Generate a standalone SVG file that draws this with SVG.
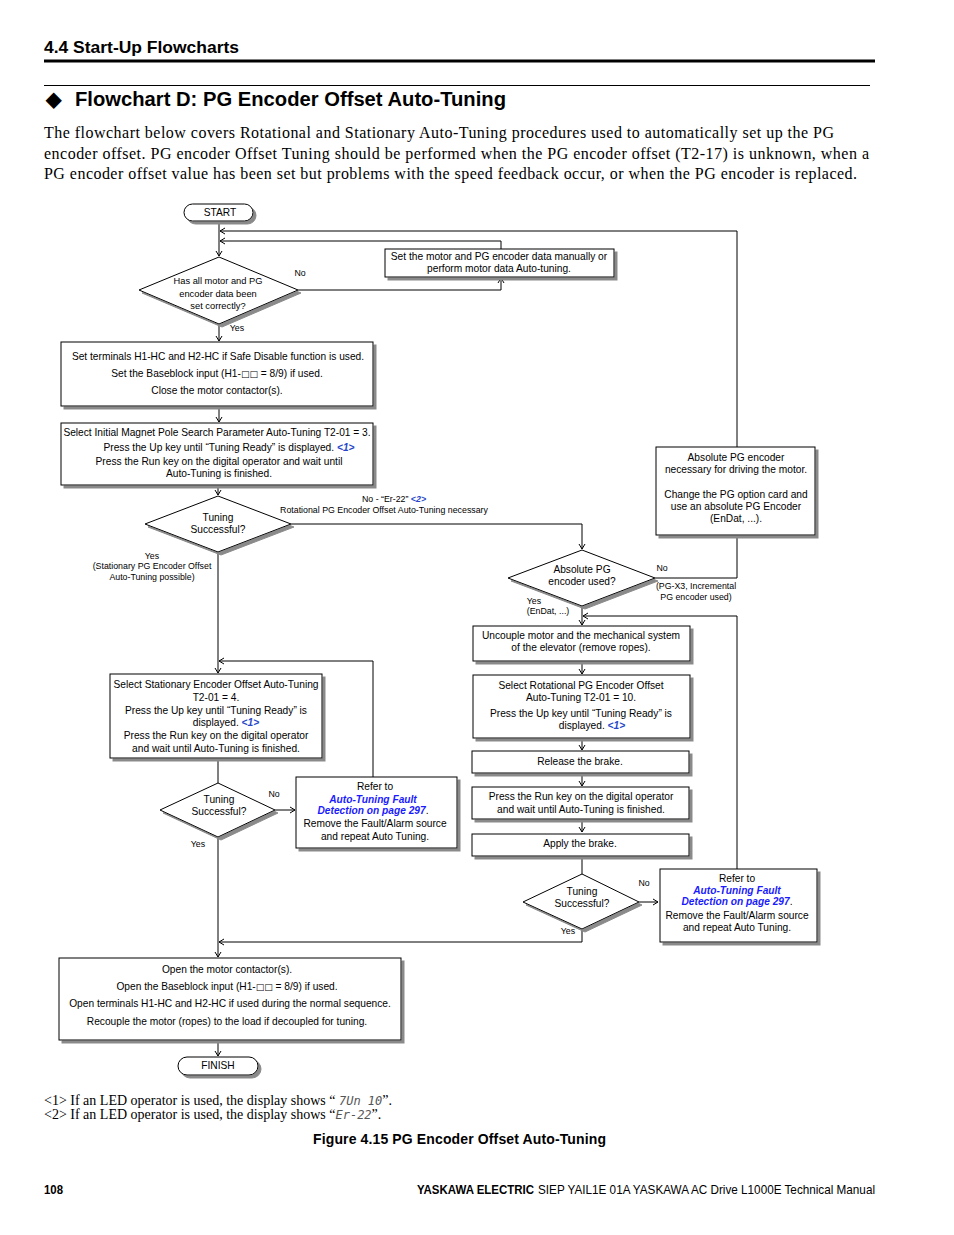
<svg xmlns="http://www.w3.org/2000/svg" width="954" height="1235" viewBox="0 0 954 1235">
<defs>
<filter id="sh" x="-10%" y="-10%" width="130%" height="140%">
<feOffset in="SourceAlpha" dx="3" dy="3" result="o"/>
<feFlood flood-color="#8a8a8a"/>
<feComposite in2="o" operator="in" result="s"/>
<feMerge><feMergeNode in="s"/><feMergeNode in="SourceGraphic"/></feMerge>
</filter>
<marker id="ar" markerWidth="8" markerHeight="8" refX="6" refY="4" orient="auto" markerUnits="userSpaceOnUse">
<path d="M1,1 L6,4 L1,7" fill="none" stroke="#000" stroke-width="1"/>
</marker>
</defs>
<style>
.b{fill:#fff;stroke:#000;stroke-width:1;filter:url(#sh)}
.t{font-family:"Liberation Sans",Arial,sans-serif;font-size:10.2px;fill:#000;text-anchor:middle}
.s{font-family:"Liberation Sans",Arial,sans-serif;font-size:8.8px;fill:#000;text-anchor:middle}
.d{font-family:"Liberation Sans",Arial,sans-serif;font-size:9.3px;fill:#000;text-anchor:middle}
.ln{font-weight:bold;font-style:italic;fill:#1a1aff}
.rf{font-weight:bold;font-style:italic;fill:#2747c9}
.sq{font-family:"DejaVu Sans",sans-serif;font-size:9px}
.c{fill:none;stroke:#000;stroke-width:1}
.ca{fill:none;stroke:#000;stroke-width:1;marker-end:url(#ar)}
.hd{font-family:"Liberation Sans",Arial,sans-serif;font-weight:bold;fill:#000}
.p{font-family:"Liberation Serif","Times New Roman",serif;font-size:16px;fill:#000}
.fn{font-family:"Liberation Serif","Times New Roman",serif;font-size:14px;fill:#000}
.led{font-family:"DejaVu Sans Mono",monospace;font-style:italic;font-size:12px;fill:#555}
</style>

<g id="page">
<text class="hd" x="44" y="53" font-size="17" textLength="195" lengthAdjust="spacingAndGlyphs">4.4  Start-Up Flowcharts</text>
<rect x="44" y="59.5" width="831" height="3" fill="#000"/>
<rect x="44" y="85" width="826" height="1" fill="#000"/>
<text class="hd" x="46" y="106" font-size="20">◆</text>
<text class="hd" x="75" y="106" font-size="20" textLength="431" lengthAdjust="spacingAndGlyphs">Flowchart D: PG Encoder Offset Auto-Tuning</text>
<text class="p" x="44" y="138" textLength="790" lengthAdjust="spacing">The flowchart below covers Rotational and Stationary Auto-Tuning procedures used to automatically set up the PG</text>
<text class="p" x="44" y="159" textLength="825" lengthAdjust="spacing">encoder offset. PG encoder Offset Tuning should be performed when the PG encoder offset (T2-17) is unknown, when a</text>
<text class="p" x="44" y="179" textLength="813" lengthAdjust="spacing">PG encoder offset value has been set but problems with the speed feedback occur, or when the PG encoder is replaced.</text>
</g>

<g id="connectors">
<path class="ca" d="M219,221 V256"/>
<path class="ca" d="M737,447 V231 H220"/>
<path class="ca" d="M501,249 V241 H220"/>
<path class="ca" d="M298,290 H501 V278"/>
<path class="ca" d="M219,324 V341"/>
<path class="ca" d="M219,406 V422"/>
<path class="ca" d="M218,485 V495"/>
<path class="ca" d="M291,524 H582 V549"/>
<path class="c" d="M655,578 H737 V536"/>
<path class="ca" d="M582,606 V625"/>
<path class="ca" d="M737,869 V616 H583"/>
<path class="ca" d="M582,661 V674"/>
<path class="ca" d="M582,738 V750"/>
<path class="ca" d="M582,773 V786"/>
<path class="ca" d="M582,819 V832"/>
<path class="c" d="M582,856 V874"/>
<path class="ca" d="M639,902 H658"/>
<path class="ca" d="M582,929 V942 H219"/>
<path class="ca" d="M218,552 V673"/>
<path class="ca" d="M373,777 V661 H219"/>
<path class="c" d="M218,758 V783"/>
<path class="ca" d="M275,810 H295"/>
<path class="ca" d="M218,837 V957"/>
<path class="ca" d="M218,1040 V1056"/>
</g>

<g id="start">
<rect class="b" x="184" y="204" width="69" height="17" rx="8.5"/>
<text class="t" x="220" y="216">START</text>
</g>

<g id="q-data">
<polygon class="b" points="219,257 298,290 219,324 139,290"/>
<text class="d" x="218" y="284">Has all motor and PG</text>
<text class="d" x="218" y="297">encoder  data been</text>
<text class="d" x="218" y="309">set correctly?</text>
</g>
<g id="lbl-1">
<text class="s" x="300" y="276">No</text>
<text class="s" x="237" y="331">Yes</text>
</g>

<g id="manual">
<rect class="b" x="385" y="249" width="229" height="28"/>
<text class="t" x="499" y="260">Set the motor and PG encoder data manually or</text>
<text class="t" x="499" y="272">perform motor data Auto-tuning.</text>
</g>

<g id="terminals">
<rect class="b" x="61" y="342" width="312" height="64"/>
<text class="t" x="218" y="360">Set terminals H1-HC and H2-HC if Safe Disable function is used.</text>
<text class="t" x="217" y="377">Set the Baseblock input (H1-<tspan class="sq">□□</tspan> = 8/9) if used.</text>
<text class="t" x="217" y="394">Close the motor contactor(s).</text>
</g>

<g id="initial">
<rect class="b" x="61" y="423" width="312" height="62"/>
<text class="t" x="217" y="436">Select Initial Magnet Pole Search Parameter Auto-Tuning T2-01 = 3.</text>
<text class="t" x="229" y="451">Press the Up key until “Tuning Ready” is displayed. <tspan class="rf">&lt;1&gt;</tspan></text>
<text class="t" x="219" y="465">Press the Run key on the digital operator and wait until</text>
<text class="t" x="219" y="477">Auto-Tuning is finished.</text>
</g>

<g id="q-tune1">
<polygon class="b" points="218,496 291,524 218,552 145,524"/>
<text class="t" x="218" y="521">Tuning</text>
<text class="t" x="218" y="533">Successful?</text>
</g>
<g id="lbl-2">
<text class="s" x="394" y="502">No - “Er-22” <tspan class="rf">&lt;2&gt;</tspan></text>
<text class="s" x="384" y="513">Rotational PG Encoder Offset Auto-Tuning necessary</text>
<text class="s" x="152" y="559">Yes</text>
<text class="s" x="152" y="569">(Stationary PG Encoder Offset</text>
<text class="s" x="152" y="580">Auto-Tuning possible)</text>
</g>

<g id="absolute-needed">
<rect class="b" x="656" y="447" width="159" height="88"/>
<text class="t" x="736" y="461">Absolute PG encoder</text>
<text class="t" x="736" y="473">necessary for driving the motor.</text>
<text class="t" x="736" y="498">Change the PG option card and</text>
<text class="t" x="736" y="510">use an absolute PG Encoder</text>
<text class="t" x="736" y="522">(EnDat, ...).</text>
</g>

<g id="q-absolute">
<polygon class="b" points="582,550 655,578 582,606 508,578"/>
<text class="t" x="582" y="573">Absolute PG</text>
<text class="t" x="582" y="585">encoder used?</text>
</g>
<g id="lbl-3">
<text class="s" x="662" y="571">No</text>
<text class="s" x="696" y="589">(PG-X3, Incremental</text>
<text class="s" x="696" y="600">PG encoder used)</text>
<text class="s" x="534" y="604">Yes</text>
<text class="s" x="548" y="614">(EnDat, ...)</text>
</g>

<g id="uncouple">
<rect class="b" x="473" y="626" width="217" height="35"/>
<text class="t" x="581" y="639">Uncouple motor and the mechanical system</text>
<text class="t" x="581" y="651">of the elevator (remove ropes).</text>
</g>

<g id="rotational">
<rect class="b" x="473" y="675" width="217" height="63"/>
<text class="t" x="581" y="689">Select Rotational PG Encoder Offset</text>
<text class="t" x="581" y="701">Auto-Tuning T2-01 = 10.</text>
<text class="t" x="581" y="717">Press the Up key until “Tuning Ready” is</text>
<text class="t" x="592" y="729">displayed. <tspan class="rf">&lt;1&gt;</tspan></text>
</g>

<g id="release">
<rect class="b" x="472" y="751" width="217" height="22"/>
<text class="t" x="580" y="765">Release the brake.</text>
</g>

<g id="run-rot">
<rect class="b" x="472" y="787" width="217" height="32"/>
<text class="t" x="581" y="800">Press the Run key on the digital operator</text>
<text class="t" x="581" y="813">and wait until Auto-Tuning is finished.</text>
</g>

<g id="apply">
<rect class="b" x="472" y="834" width="217" height="22"/>
<text class="t" x="580" y="847">Apply the brake.</text>
</g>

<g id="q-tune3">
<polygon class="b" points="582,874 639,902 582,929 523,902"/>
<text class="t" x="582" y="895">Tuning</text>
<text class="t" x="582" y="907">Successful?</text>
</g>
<g id="lbl-4">
<text class="s" x="644" y="886">No</text>
<text class="s" x="568" y="934">Yes</text>
</g>

<g id="refer-right">
<rect class="b" x="660" y="869" width="157" height="73"/>
<text class="t" x="737" y="882">Refer to</text>
<text class="t ln" x="737" y="894">Auto-Tuning Fault</text>
<text class="t" x="737" y="905"><tspan class="ln">Detection on page 297</tspan>.</text>
<text class="t" x="737" y="919">Remove the Fault/Alarm source</text>
<text class="t" x="737" y="931">and repeat Auto Tuning.</text>
</g>

<g id="stationary">
<rect class="b" x="110" y="674" width="212" height="84"/>
<text class="t" x="216" y="688">Select Stationary Encoder Offset Auto-Tuning</text>
<text class="t" x="216" y="701">T2-01 = 4.</text>
<text class="t" x="216" y="714">Press the Up key until “Tuning Ready” is</text>
<text class="t" x="226" y="726">displayed. <tspan class="rf">&lt;1&gt;</tspan></text>
<text class="t" x="216" y="739">Press the Run key on the digital operator</text>
<text class="t" x="216" y="752">and wait until Auto-Tuning is finished.</text>
</g>

<g id="q-tune2">
<polygon class="b" points="218,783 275,810 218,837 160,810"/>
<text class="t" x="219" y="803">Tuning</text>
<text class="t" x="219" y="815">Successful?</text>
</g>
<g id="lbl-5">
<text class="s" x="274" y="797">No</text>
<text class="s" x="198" y="847">Yes</text>
</g>

<g id="refer-left">
<rect class="b" x="296" y="777" width="161" height="71"/>
<text class="t" x="375" y="790">Refer to</text>
<text class="t ln" x="373" y="803">Auto-Tuning Fault</text>
<text class="t" x="373" y="814"><tspan class="ln">Detection on page 297</tspan>.</text>
<text class="t" x="375" y="827">Remove the Fault/Alarm source</text>
<text class="t" x="375" y="840">and repeat Auto Tuning.</text>
</g>

<g id="finish-steps">
<rect class="b" x="59" y="958" width="342" height="82"/>
<text class="t" x="227" y="973">Open the motor contactor(s).</text>
<text class="t" x="227" y="990">Open the Baseblock input (H1-<tspan class="sq">□□</tspan> = 8/9) if used.</text>
<text class="t" x="230" y="1007">Open terminals H1-HC and H2-HC if used during the normal sequence.</text>
<text class="t" x="227" y="1025">Recouple the motor (ropes) to the load if decoupled for tuning.</text>
</g>

<g id="finish">
<rect class="b" x="178" y="1057" width="80" height="18" rx="9"/>
<text class="t" x="218" y="1069">FINISH</text>
</g>

<g id="notes">
<text class="fn" x="44" y="1105">&lt;1&gt; If an LED operator is used, the display shows “ <tspan class="led">7Un 10</tspan>”.</text>
<text class="fn" x="44" y="1119">&lt;2&gt; If an LED operator is used, the display shows “<tspan class="led">Er-22</tspan>”.</text>
<text class="hd" x="313" y="1144" font-size="14" textLength="293" lengthAdjust="spacing">Figure 4.15  PG Encoder Offset Auto-Tuning</text>
<text class="hd" x="44" y="1194" font-size="13" textLength="19" lengthAdjust="spacingAndGlyphs">108</text>
<text class="hd" x="417" y="1194" font-size="13" textLength="117" lengthAdjust="spacingAndGlyphs">YASKAWA ELECTRIC</text>
<text font-family="'Liberation Sans',Arial,sans-serif" font-size="13" x="538" y="1194" textLength="337" lengthAdjust="spacingAndGlyphs">SIEP YAIL1E 01A YASKAWA AC Drive L1000E Technical Manual</text>
</g>
</svg>
